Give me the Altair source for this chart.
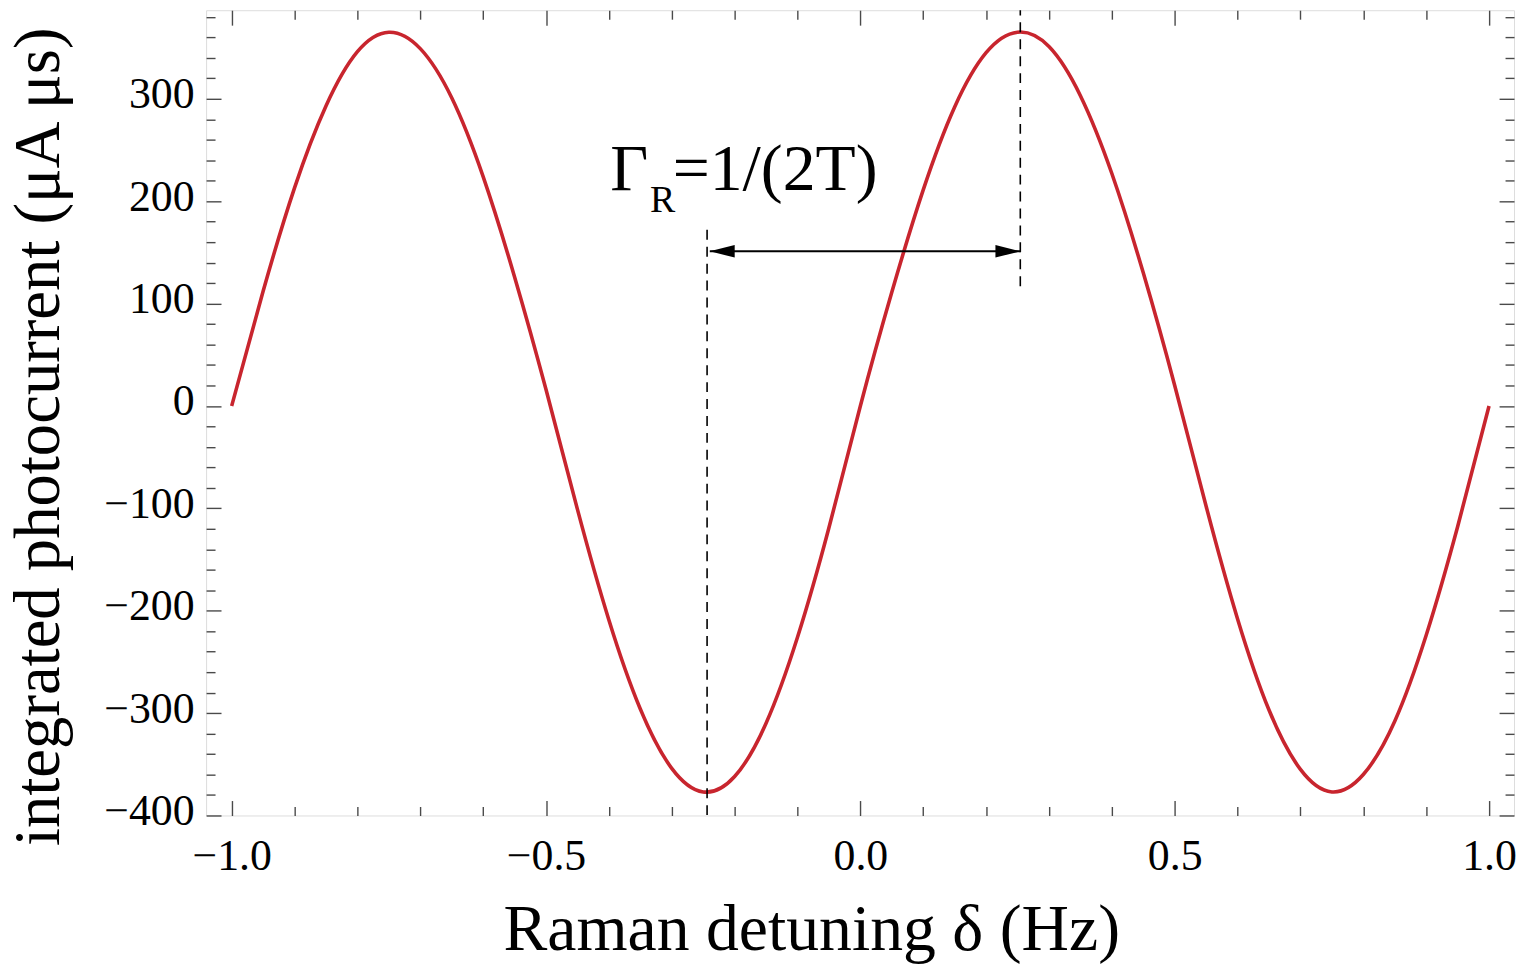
import altair as alt
import pandas as pd

# ---- data ----
x_vals = [-1.00, -0.95, -0.90, -0.85, -0.80, -0.75, -0.70, -0.65, -0.60, -0.55,
          -0.50, -0.45, -0.40, -0.35, -0.30, -0.25, -0.20, -0.15, -0.10, -0.05,
          0.00, 0.05, 0.10, 0.15, 0.20, 0.25, 0.30, 0.35, 0.40, 0.45,
          0.50, 0.55, 0.60, 0.65, 0.70, 0.75, 0.80, 0.85, 0.90, 0.95, 1.00]
y_vals = [0, 112, 213, 293, 346, 365, 349, 301, 224, 126,
          16, -101, -209, -296, -354, -377, -362, -310, -226, -119,
          0, 111, 211, 292, 345, 365, 351, 303, 227, 130,
          20, -98, -208, -297, -355, -377, -360, -308, -224, -118, 0]

x_major = [-1.0, -0.5, 0.0, 0.5, 1.0]
x_ticks = [-1.0, -0.9, -0.8, -0.7, -0.6, -0.5, -0.4, -0.3, -0.2, -0.1, 0.0,
           0.1, 0.2, 0.3, 0.4, 0.5, 0.6, 0.7, 0.8, 0.9, 1.0]
y_major = [-400, -300, -200, -100, 0, 100, 200, 300]
y_ticks = list(range(-400, 381, 20))

x_domain = [-1.0407, 1.0397]
y_domain = [-400, 386.5]

# annotation
dash_x = [-0.2438, 0.2544]
dash_y = [172, 117]
dash_y2 = [-400, 386.5]
arrow_x = [-0.2395]
arrow_x2 = [0.2544]
arrow_y = [151]
text_x = [-0.398, -0.2985]
text_y = [211, 211]
text_s = ["\u0393", "=1/(2T)"]
sub_x = [-0.3345]
sub_y = [189]
sub_s = ["R"]

W, H = 1314, 809
FONT = "Liberation Serif"
TICK_COLOR = "#4a4a4a"

curve = pd.DataFrame({"x": x_vals, "y": y_vals})
dashes = pd.DataFrame({"x": dash_x, "y": dash_y, "y2": dash_y2})
arrow = pd.DataFrame({"x": arrow_x, "x2": arrow_x2, "y": arrow_y})
texts = pd.DataFrame({"x": text_x, "y": text_y, "t": text_s})
subs = pd.DataFrame({"x": sub_x, "y": sub_y, "t": sub_s})
heads_l = pd.DataFrame({"x": arrow_x, "y": arrow_y})
heads_r = pd.DataFrame({"x": arrow_x2, "y": arrow_y})

xs = alt.Scale(domain=x_domain, nice=False, zero=False)
ys = alt.Scale(domain=y_domain, nice=False, zero=False)

x_major_test = "abs(datum.value*2 - round(datum.value*2)) < 1e-6"
y_major_test = "abs(datum.value % 100) < 1e-6"

def x_tick_axis(orient):
    return alt.Axis(orient=orient, offset=-H, values=x_ticks, labels=False, domain=False,
                    grid=False, ticks=True, title=None, tickColor=TICK_COLOR, tickWidth=1.4,
                    tickSize={"condition": {"test": x_major_test, "value": 15}, "value": 9})

def y_tick_axis(orient):
    return alt.Axis(orient=orient, offset=-W, values=y_ticks, labels=False, domain=False,
                    grid=False, ticks=True, title=None, tickColor=TICK_COLOR, tickWidth=1.4,
                    tickSize={"condition": {"test": y_major_test, "value": 15}, "value": 9})

line = alt.Chart(curve).mark_line(color="#c8252e", strokeWidth=3.6, interpolate="natural").encode(
    x=alt.X("x:Q", scale=xs, axis=alt.Axis(
        orient="bottom", values=x_major, ticks=False, tickSize=0, domain=False, grid=False,
        labelExpr="replace(format(datum.value, '.1f'), '-', '\u2212')",
        labelFont=FONT, labelFontSize=44, labelColor="black", labelPadding=54,
        labelBaseline="alphabetic", labelFlush=False, labelOverlap=False, labelBound=False,
        title="Raman detuning \u03b4 (Hz)", titleFont=FONT, titleFontSize=66,
        titleFontWeight="normal", titleColor="black", titleX=608, titleY=135,
        titleAlign="center", titleBaseline="alphabetic", titleAnchor="start")),
    y=alt.Y("y:Q", scale=ys, axis=alt.Axis(
        orient="left", values=y_major, ticks=False, tickSize=0, domain=False, grid=False,
        labelExpr="replace(format(datum.value, 'd'), '-', '\u2212')",
        labelFont=FONT, labelFontSize=44, labelColor="black", labelPadding=12,
        labelBaseline="middle", labelOffset=-4, labelOverlap=False, labelBound=False,
        labelFlush=False,
        title="integrated photocurrent (\u03bcA \u03bcs)", titleFont=FONT, titleFontSize=65,
        titleFontWeight="normal", titleColor="black", titleAngle=-90, titleX=-148,
        titleY=428, titleAlign="center", titleBaseline="alphabetic", titleAnchor="start")),
)

dash = alt.Chart(dashes).mark_rule(color="black", strokeWidth=1.6, strokeDash=[10, 7]).encode(
    x=alt.X("x:Q", scale=xs, axis=x_tick_axis("top")),
    y=alt.Y("y:Q", scale=ys, axis=y_tick_axis("right")),
    y2="y2:Q",
)

arr = alt.Chart(arrow).mark_rule(color="black", strokeWidth=2).encode(
    x=alt.X("x:Q", scale=xs, axis=x_tick_axis("bottom")),
    x2="x2:Q",
    y=alt.Y("y:Q", scale=ys, axis=y_tick_axis("left")),
)

hl = alt.Chart(heads_l).mark_point(shape="M0,0 L2,-0.5 L2,0.5 Z", size=625, filled=True,
                                   color="black", opacity=1, strokeWidth=0).encode(
    x=alt.X("x:Q", scale=xs, axis=None), y=alt.Y("y:Q", scale=ys, axis=None))
hr = alt.Chart(heads_r).mark_point(shape="M0,0 L-2,-0.5 L-2,0.5 Z", size=625, filled=True,
                                   color="black", opacity=1, strokeWidth=0).encode(
    x=alt.X("x:Q", scale=xs, axis=None), y=alt.Y("y:Q", scale=ys, axis=None))

txt = alt.Chart(texts).mark_text(font=FONT, fontSize=66, align="left", baseline="alphabetic",
                                 color="black").encode(
    x=alt.X("x:Q", scale=xs, axis=None), y=alt.Y("y:Q", scale=ys, axis=None), text="t:N")
sub = alt.Chart(subs).mark_text(font=FONT, fontSize=38, align="left", baseline="alphabetic",
                                color="black").encode(
    x=alt.X("x:Q", scale=xs, axis=None), y=alt.Y("y:Q", scale=ys, axis=None), text="t:N")

chart = alt.layer(line, dash, arr, hl, hr, txt, sub).resolve_axis(
    x="independent", y="independent"
).properties(
    width=W, height=H,
    autosize=alt.AutoSizeParams(type="none"),
    padding={"left": 199, "top": 0, "right": 2, "bottom": 150},
).configure_view(
    stroke="#8c8c8c", strokeWidth=1.8
).configure(background="white")

chart.save("out.html", embed_options={"renderer": "svg", "actions": False})
